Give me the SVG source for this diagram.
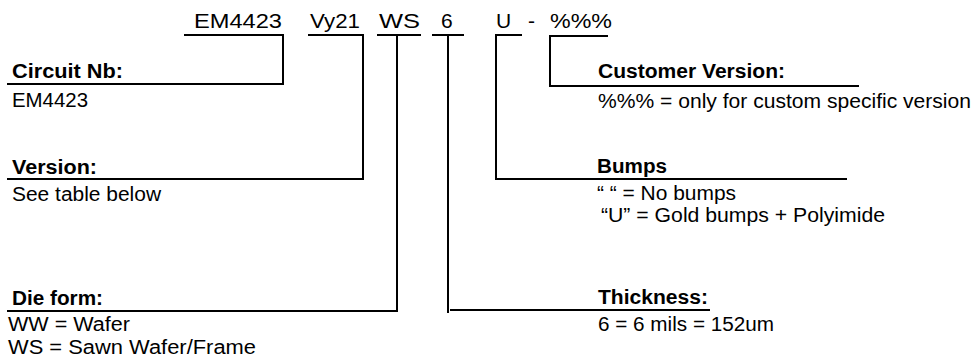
<svg xmlns="http://www.w3.org/2000/svg" width="975" height="362" viewBox="0 0 975 362">
<style>
text{font-family:"Liberation Sans",Arial,Helvetica,sans-serif;fill:#000}
.c{font-size:21px}
.r{font-size:20px}
.b{font-size:20px;font-weight:bold}
.ln{fill:none;stroke:#000;stroke-width:2;stroke-linejoin:miter;stroke-linecap:square}
</style>
<rect width="975" height="362" fill="#fff"/>
<g id="code">
<text class="c" x="194" y="28" textLength="88" lengthAdjust="spacingAndGlyphs">EM4423</text>
<text class="c" x="310" y="28" textLength="50" lengthAdjust="spacingAndGlyphs">Vy21</text>
<text class="c" x="379" y="28" textLength="41" lengthAdjust="spacingAndGlyphs">WS</text>
<text class="c" x="441" y="28">6</text>
<text class="c" x="496" y="28">U</text>
<text class="c" x="528" y="28">-</text>
<text class="c" x="550" y="28" textLength="62" lengthAdjust="spacingAndGlyphs">%%%</text>
</g>
<g id="connectors">
<polyline class="ln" points="8,84 283,84 283,35 185,35"/>
<polyline class="ln" points="8,179 363,179 363,35 309,35"/>
<polyline class="ln" points="378,35 420,35"/>
<polyline class="ln" points="397,35 397,311 8,311"/>
<polyline class="ln" points="433,35 463,35"/>
<polyline class="ln" points="448,35 448,312"/>
<polyline class="ln" points="451,310 709,310"/>
<polyline class="ln" points="521,35 496,35 496,179 846,179"/>
<polyline class="ln" points="607,36 550,36 550,86 858,86"/>
</g>
<g id="circuit">
<text class="b" x="12" y="78" textLength="111" lengthAdjust="spacingAndGlyphs">Circuit Nb:</text>
<text class="r" x="12" y="107" textLength="76" lengthAdjust="spacingAndGlyphs">EM4423</text>
</g>
<g id="version">
<text class="b" x="12" y="174" textLength="85" lengthAdjust="spacingAndGlyphs">Version:</text>
<text class="r" x="12" y="201" textLength="149" lengthAdjust="spacingAndGlyphs">See table below</text>
</g>
<g id="dieform">
<text class="b" x="12" y="305" textLength="91" lengthAdjust="spacingAndGlyphs">Die form:</text>
<text class="r" x="8" y="331" textLength="122" lengthAdjust="spacingAndGlyphs">WW = Wafer</text>
<text class="r" x="8" y="354" textLength="248" lengthAdjust="spacingAndGlyphs">WS = Sawn Wafer/Frame</text>
</g>
<g id="customer">
<text class="b" x="598" y="78" textLength="187" lengthAdjust="spacingAndGlyphs">Customer Version:</text>
<text class="r" x="598" y="108" textLength="373" lengthAdjust="spacingAndGlyphs">%%% = only for custom specific version</text>
</g>
<g id="bumps">
<text class="b" x="597" y="173" textLength="70" lengthAdjust="spacingAndGlyphs">Bumps</text>
<text class="r" x="597" y="200" textLength="139" lengthAdjust="spacingAndGlyphs">“ “ = No bumps</text>
<text class="r" x="601" y="222" textLength="284" lengthAdjust="spacingAndGlyphs">“U” = Gold bumps + Polyimide</text>
</g>
<g id="thickness">
<text class="b" x="598" y="304" textLength="110" lengthAdjust="spacingAndGlyphs">Thickness:</text>
<text class="r" x="598" y="331" textLength="176" lengthAdjust="spacingAndGlyphs">6 = 6 mils = 152um</text>
</g>
</svg>
